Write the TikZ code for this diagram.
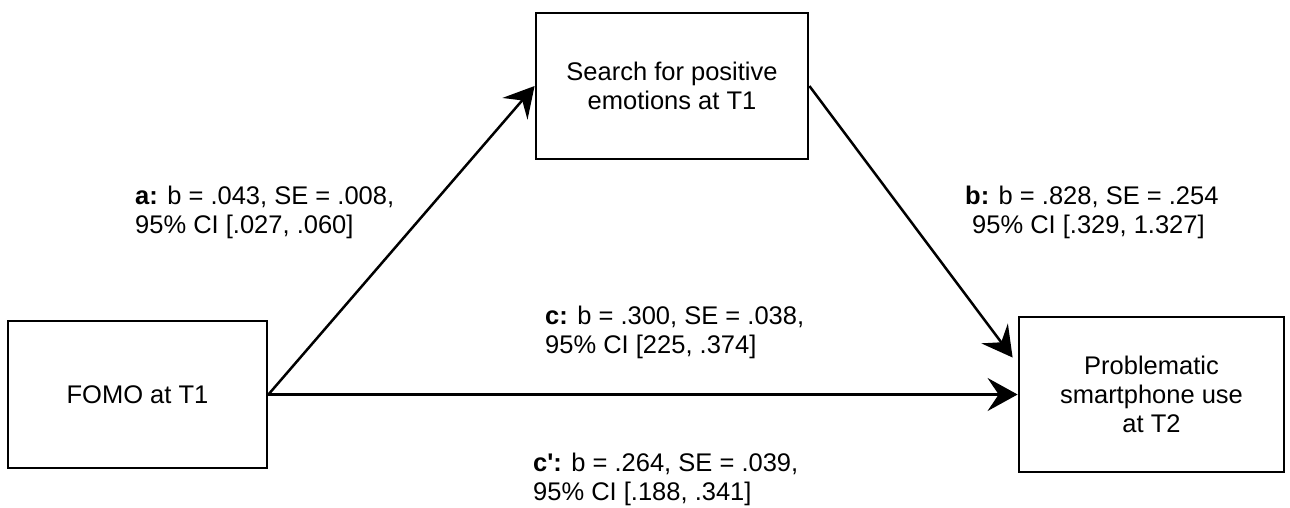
\documentclass[tikz,border=0pt]{standalone}
\usepackage{fontspec}
\setmainfont{Liberation Sans}[Ligatures=TeXOff]
\usetikzlibrary{arrows.meta,calc}
\begin{document}
\begin{tikzpicture}[x=1pt,y=-1pt,
  box/.style={draw,line width=2.8pt,align=center,inner sep=0pt,
    font=\fontsize{25.5}{29}\selectfont},
  lab/.style={align=left,anchor=west,inner sep=0pt,
    font=\fontsize{25.5}{29}\selectfont},
  path/.style={line width=2.5pt,
    -{Stealth[length=30pt,width=33pt,inset=11pt]}}]
\useasboundingbox (0,0) rectangle (1290,507);

% variables
\node[box,minimum width=259pt,minimum height=147pt] (fomo) at (137.5,394.5) {FOMO at T1};
\node[box,minimum width=272pt,minimum height=146pt] (search) at (672,86) {Search for positive\\ emotions at T1};
\node[box,minimum width=265pt,minimum height=155pt] (prob) at (1151.5,394.5) {Problematic\\smartphone use\\ at T2};

\coordinate (probin) at ([yshift=37pt,xshift=-5pt]prob.west);

% paths
\draw[path] (fomo.east) -- (search.west);
\draw[path] (search.east) -- (probin);
\draw[path] (fomo.east) -- (prob.west);

% coefficients
\node[lab] (la) at (135,212) {\textbf{a:} b = .043, SE = .008,\\95\% CI [.027, .060]};
\node[lab] (lb) at (965,212) {\textbf{b:} b = .828, SE = .254\\\hspace*{7pt}95\% CI [.329, 1.327]};
\node[lab] (lc) at (545,332) {\textbf{c:} b = .300, SE = .038,\\95\% CI [225, .374]};
\node[lab] (lcp) at (533,479) {\textbf{c':} b = .264, SE = .039,\\95\% CI [.188, .341]};
\end{tikzpicture}
\end{document}
